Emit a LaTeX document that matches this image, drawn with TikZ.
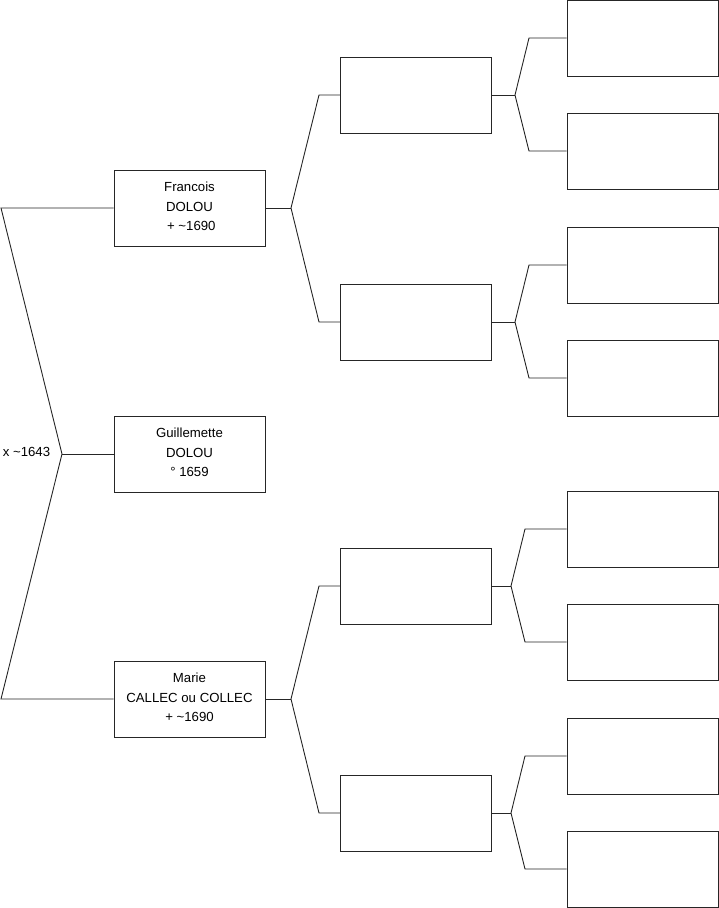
\documentclass[tikz,border=0pt]{standalone}
\usepackage{fontspec}
\setmainfont{Liberation Sans}
\begin{document}
\begin{tikzpicture}[x=1pt,y=-1pt,
  person/.style={draw=black!85, line width=0.9pt, minimum width=151pt, minimum height=76pt, inner sep=0pt, align=center, font=\fontsize{13.2}{19.5}\selectfont},
  named/.style={person, text depth=3pt},
  link/.style={draw=black!85, line width=0.9pt},
  lbl/.style={font=\fontsize{13.2}{19.5}\selectfont, inner sep=0pt}]
\useasboundingbox (0,0) rectangle (719,908);
% generation 1
\node[named] (f) at (189.5,208) {Francois\\DOLOU\\\ + \textasciitilde1690};
\node[named] (g) at (189.5,454) {Guillemette\\DOLOU\\° 1659};
\node[named] (m) at (189.5,699) {Marie\\CALLEC ou COLLEC\\+ \textasciitilde1690};
% generation 2
\node[person] (p1) at (416,95) {};
\node[person] (p2) at (416,322) {};
\node[person] (p3) at (416,586) {};
\node[person] (p4) at (416,813) {};
% generation 3
\foreach \i/\y in {1/38,2/151,3/265,4/378,5/529,6/642,7/756,8/869}
  \node[person] (q\i) at (642.5,\y) {};
% left bracket
\coordinate (L1) at (1,208);
\coordinate (V) at (62,454);
\coordinate (L3) at (1,699);
\draw[link] (f.west) -- (L1) -- (V) -- (L3) -- (m.west);
\draw[link] (V) -- (g.west);
\node[lbl] (x) at (26.5,452) {x \textasciitilde1643};
% gen1 -> gen2
\coordinate (jf) at (291,208);
\coordinate (jm) at (291,699);
\draw[link] (f.east) -- (jf);
\draw[link] (p1.west) -- (319,95) -- (jf) -- (319,322) -- (p2.west);
\draw[link] (m.east) -- (jm);
\draw[link] (p3.west) -- (319,586) -- (jm) -- (319,813) -- (p4.west);
% gen2 -> gen3
\coordinate (j1) at (515,95);
\coordinate (j2) at (515,322);
\coordinate (j3) at (511,586);
\coordinate (j4) at (511,813);
\draw[link] (p1.east) -- (j1);
\draw[link] (q1.west) -- (529,38) -- (j1) -- (529,151) -- (q2.west);
\draw[link] (p2.east) -- (j2);
\draw[link] (q3.west) -- (529,265) -- (j2) -- (529,378) -- (q4.west);
\draw[link] (p3.east) -- (j3);
\draw[link] (q5.west) -- (525,529) -- (j3) -- (525,642) -- (q6.west);
\draw[link] (p4.east) -- (j4);
\draw[link] (q7.west) -- (525,756) -- (j4) -- (525,869) -- (q8.west);
\end{tikzpicture}
\end{document}
